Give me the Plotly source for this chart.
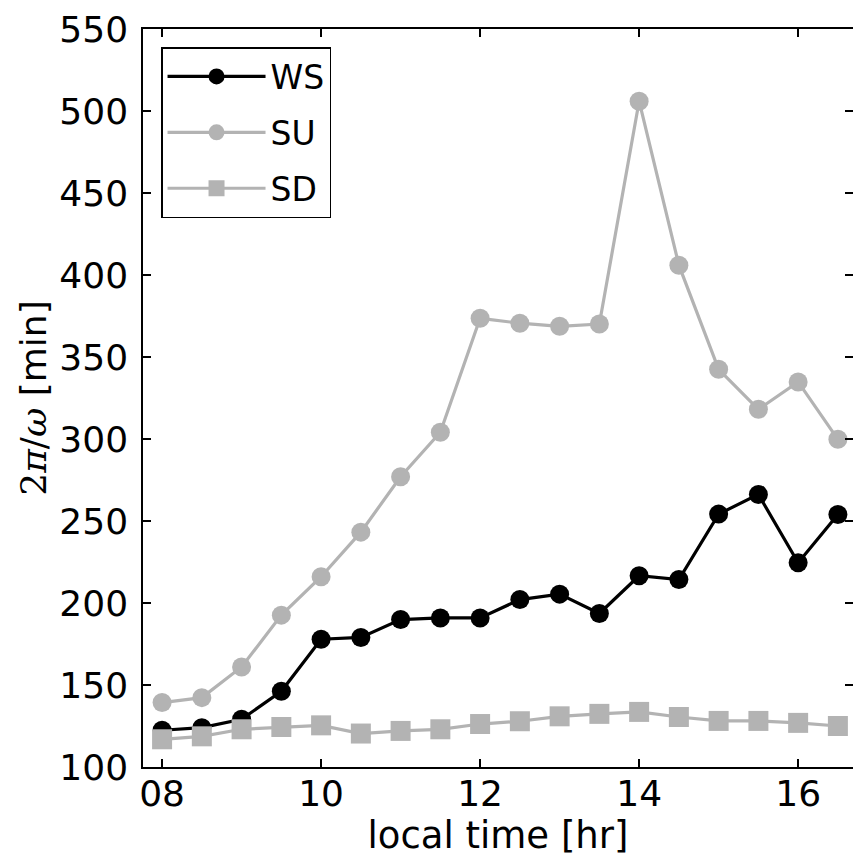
import plotly.graph_objects as go

hours = [8, 8.5, 9, 9.5, 10, 10.5, 11, 11.5, 12, 12.5, 13, 13.5, 14, 14.5, 15, 15.5, 16, 16.5]
ws = [122.4, 124.0, 129.1, 146.2, 177.9, 179.0, 189.9, 190.9, 190.9, 202.1, 205.4, 193.6,
      216.6, 214.3, 254.2, 266.2, 224.5, 254.0]
su = [139.3, 142.3, 161.0, 192.6, 216.0, 243.2, 277.0, 304.1, 373.6, 370.6, 368.7, 370.1,
      506.0, 406.0, 342.5, 318.1, 334.8, 299.8]
sd = [116.9, 118.7, 123.0, 124.4, 125.4, 120.4, 122.0, 123.0, 126.2, 127.9, 130.9, 132.4,
      133.6, 130.5, 128.1, 128.1, 126.9, 125.0]

x_tickvals = [8, 10, 12, 14, 16]
x_ticktext = ["08", "10", "12", "14", "16"]
y_tickvals = [100, 150, 200, 250, 300, 350, 400, 450, 500, 550]

BLACK = "#000000"
GRAY = "#b3b3b3"
FONT = "DejaVu Sans"

fig = go.Figure()
fig.add_trace(go.Scatter(x=hours, y=ws, name="WS", mode="lines+markers", legendgroup="a",
                         line=dict(color=BLACK, width=3.2),
                         marker=dict(symbol="circle", size=19, color=BLACK)))
fig.add_trace(go.Scatter(x=hours, y=su, name="SU", mode="lines+markers", legendgroup="b",
                         line=dict(color=GRAY, width=3.2),
                         marker=dict(symbol="circle", size=19, color=GRAY)))
fig.add_trace(go.Scatter(x=hours, y=sd, name="SD", mode="lines+markers", legendgroup="c",
                         line=dict(color=GRAY, width=3.2),
                         marker=dict(symbol="square", size=20, color=GRAY)))

axis_common = dict(showline=True, linecolor="black", linewidth=1.5, mirror="allticks",
                   ticks="inside", ticklen=8, tickwidth=1.5, tickcolor="black",
                   showgrid=False, zeroline=False,
                   tickfont=dict(family=FONT, size=36, color="black"))

fig.update_xaxes(range=[7.76, 16.69], tickvals=x_tickvals, ticktext=x_ticktext,
                 title=dict(text="local time [hr]", font=dict(family=FONT, size=37, color="black"),
                            standoff=2),
                 ticklabelstandoff=-6,
                 **axis_common)
fig.update_yaxes(range=[100, 550], tickvals=y_tickvals,
                 title=dict(text="<span style='font-family:DejaVu Serif'>2<i>π</i>/<i>ω</i></span> [min]",
                            font=dict(family=FONT, size=36, color="black"), standoff=2),
                 ticklabelstandoff=6,
                 **axis_common)

fig.update_layout(
    width=853, height=859,
    margin=dict(l=143, r=0, t=29, b=92, autoexpand=False),
    plot_bgcolor="white", paper_bgcolor="white",
    showlegend=True,
    legend=dict(x=0.0254, y=0.9756, xanchor="left", yanchor="top",
                bgcolor="white", bordercolor="black", borderwidth=1.5,
                font=dict(family=FONT, size=33, color="black"),
                itemwidth=98, entrywidth=82, tracegroupgap=10),
)

fig.write_html("out.html")
